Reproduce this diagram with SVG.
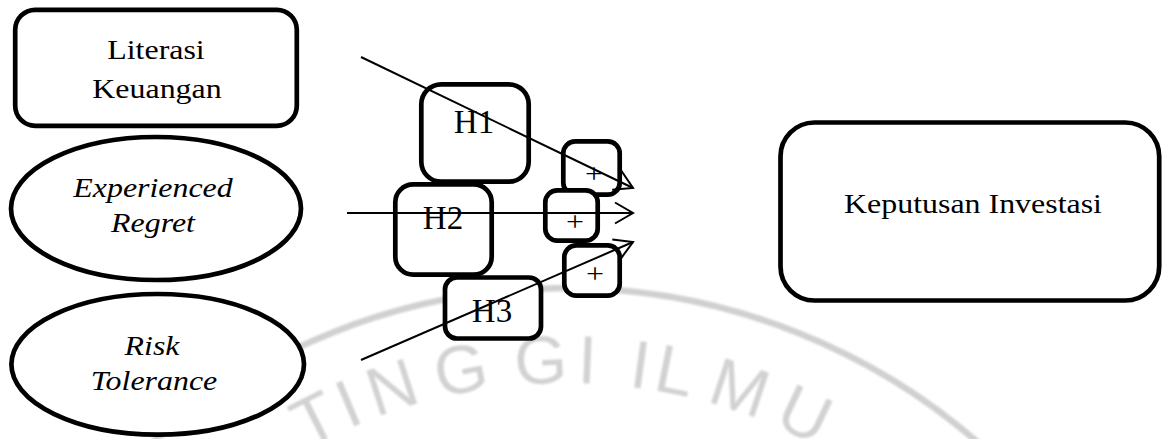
<svg xmlns="http://www.w3.org/2000/svg" width="1163" height="439" viewBox="0 0 1163 439">
  <style>
    .box { fill: #fff; stroke: #000; stroke-width: 4.7; }
    .t { font-family: "Liberation Serif", "Times New Roman", serif; font-size: 28px; fill: #000; text-anchor: middle; }
    .i { font-style: italic; }
    .h { font-size: 33px; }
    .wm { font-family: "Liberation Sans", Arial, sans-serif; font-size: 68px; fill: #d2d2d2; text-anchor: middle; }
    .wmarc { fill: none; stroke: #d0d0d0; stroke-width: 6.5; }
    .conn line { stroke: #000; stroke-width: 2; marker-end: url(#arr); }
  </style>
  <defs>
    <marker id="arr" markerUnits="userSpaceOnUse" markerWidth="22" markerHeight="24" refX="18" refY="11" orient="auto" overflow="visible">
      <path d="M0,0.5 L18,11 L0,21.5" fill="none" stroke="#000" stroke-width="2"/>
    </marker>
    <filter id="soft" x="-5%" y="-5%" width="110%" height="110%">
      <feGaussianBlur stdDeviation="0.8"/>
    </filter>
  </defs>
  <rect width="1163" height="439" fill="#fff"/>

  <g id="watermark" filter="url(#soft)">
    <circle class="wmarc" cx="565" cy="917" r="629"/>
    <text class="wm" x="565" y="383" transform="rotate(-26.7 565 917)">T</text>
    <text class="wm" x="565" y="383" transform="rotate(-22.9 565 917)">I</text>
    <text class="wm" x="565" y="383" transform="rotate(-18.1 565 917)">N</text>
    <text class="wm" x="565" y="383" transform="rotate(-10.8 565 917)">G</text>
    <text class="wm" x="565" y="383" transform="rotate(-2.5 565 917)">G</text>
    <text class="wm" x="565" y="383" transform="rotate(2.3 565 917)">I</text>
    <text class="wm" x="565" y="383" transform="rotate(7.8 565 917)">I</text>
    <text class="wm" x="565" y="383" transform="rotate(11.4 565 917)">L</text>
    <text class="wm" x="565" y="383" transform="rotate(18.3 565 917)">M</text>
    <text class="wm" x="565" y="383" transform="rotate(25.5 565 917)">U</text>
  </g>

  <g id="literasi">
    <rect class="box" x="15.2" y="9.8" width="281.6" height="116" rx="20"/>
    <text class="t" transform="translate(156,59) scale(1.14,1)">Literasi</text>
    <text class="t" transform="translate(157,98) scale(1.14,1)">Keuangan</text>
  </g>

  <g id="regret">
    <ellipse class="box" cx="156" cy="208.5" rx="145" ry="71.5" stroke-width="4.2"/>
    <text class="t i" transform="translate(153,197) scale(1.14,1)">Experienced</text>
    <text class="t i" transform="translate(153,232) scale(1.14,1)">Regret</text>
  </g>

  <g id="risk">
    <ellipse class="box" cx="157.7" cy="364.3" rx="146.3" ry="70.3" stroke-width="4.2"/>
    <text class="t i" transform="translate(152,355) scale(1.14,1)">Risk</text>
    <text class="t i" transform="translate(154,390) scale(1.14,1)">Tolerance</text>
  </g>

  <g id="keputusan">
    <rect class="box" x="780.5" y="122.5" width="378.7" height="178" rx="34"/>
    <text class="t" transform="translate(973,213) scale(1.14,1)">Keputusan Investasi</text>
  </g>

  <g id="h1">
    <rect class="box" x="421.3" y="84.3" width="107.4" height="97.4" rx="20"/>
    <text class="t h" x="474" y="133">H1</text>
  </g>
  <g id="h2">
    <rect class="box" x="395.3" y="184.3" width="96.4" height="90.4" rx="18"/>
    <text class="t h" x="443" y="229">H2</text>
  </g>
  <g id="h3">
    <rect class="box" x="445" y="277.5" width="96" height="61" rx="12"/>
    <text class="t h" x="492" y="322">H3</text>
  </g>

  <g id="plus1">
    <rect class="box" x="563.3" y="141.3" width="56.4" height="53.4" rx="12"/>
    <text class="t" transform="translate(594,183) scale(1.14,1)">+</text>
  </g>
  <g id="plus2">
    <rect class="box" x="545.3" y="190.3" width="52.4" height="50.4" rx="12"/>
    <text class="t" transform="translate(575,231) scale(1.14,1)">+</text>
  </g>
  <g id="plus3">
    <rect class="box" x="564.3" y="245.3" width="55.4" height="50.4" rx="12"/>
    <text class="t" transform="translate(595,283) scale(1.14,1)">+</text>
  </g>

  <g id="connectors" class="conn">
    <line x1="361" y1="57" x2="633" y2="188"/>
    <line x1="347" y1="213" x2="633" y2="213"/>
    <line x1="361" y1="360" x2="633" y2="242"/>
  </g>
</svg>
